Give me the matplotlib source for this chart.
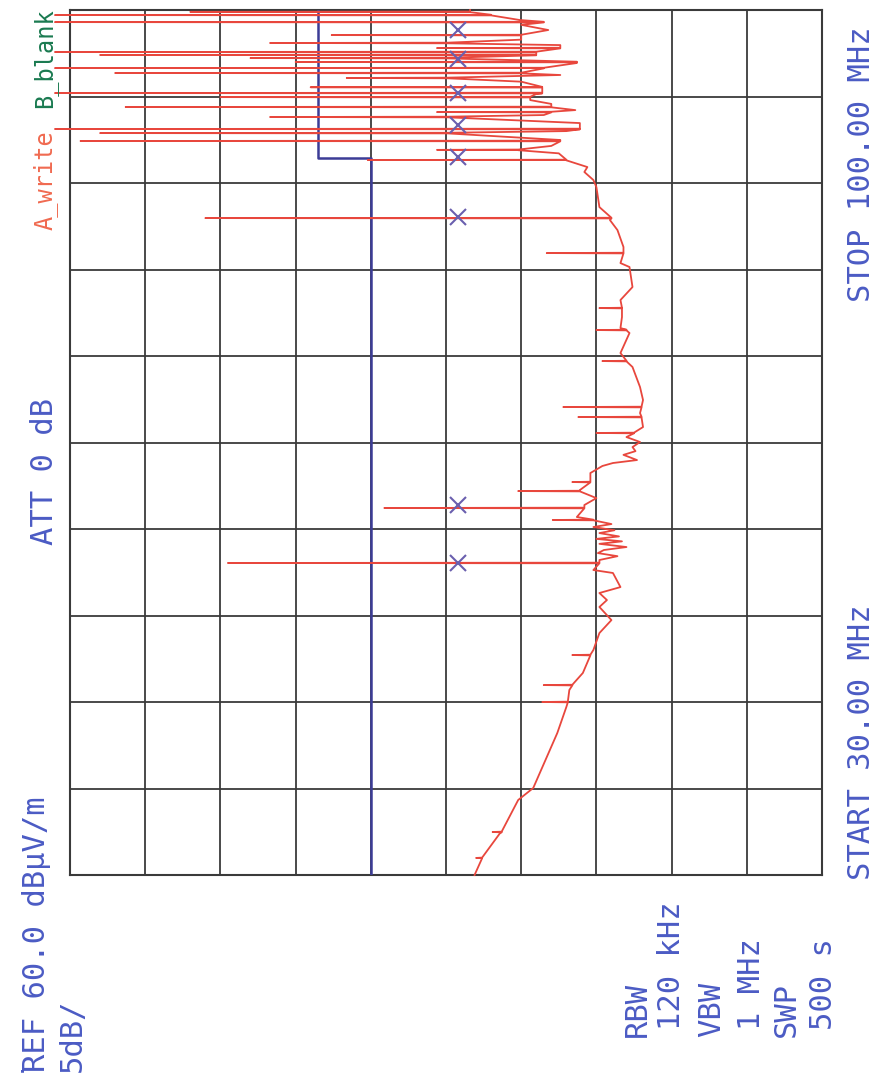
import matplotlib.pyplot as plt

# sweep noise floor (MHz, dBuV/m)
floor_freq = [30.00, 31.38, 33.40, 36.07, 37.04, 39.55, 41.49, 43.59, 44.97, 46.35,
              48.21, 49.58, 50.63, 51.69, 52.25, 52.82, 53.30, 54.44, 54.68, 55.49,
              55.80, 56.05, 56.30, 56.54, 56.80, 57.00, 57.20, 57.40, 57.67, 57.90,
              58.16, 58.40, 58.97, 59.94, 60.50, 61.15, 62.53, 63.10, 63.34, 63.58,
              64.00, 64.30, 64.63, 65.04, 65.44, 66.25, 67.38, 68.44, 69.49, 71.11,
              72.24, 73.86, 74.26, 75.15, 76.53, 77.58, 79.20, 79.52, 80.82, 82.19,
              83.00, 84.05, 85.67, 86.24, 86.89, 87.29, 87.86, 88.40, 88.68, 89.00,
              89.48, 90.20, 90.85, 91.50, 91.90, 92.40, 92.71, 93.20, 93.68, 94.20,
              94.74, 95.30, 95.71, 96.40, 97.16, 97.60, 98.38, 98.80, 99.19, 99.60,
              100.00]
floor_level = [33.1, 32.6, 31.4, 30.2, 29.2, 28.3, 27.6, 27.0, 26.8, 25.9,
               25.2, 24.8, 24.0, 24.8, 24.3, 24.8, 23.4, 23.9, 25.2, 24.8,
               23.6, 24.9, 24.5, 23.0, 24.8, 23.3, 25.0, 23.5, 24.8, 23.8,
               25.2, 24.0, 26.3, 25.8, 25.0, 26.1, 25.4, 24.6, 23.9, 22.3,
               23.2, 22.4, 22.6, 22.1, 23.0, 21.9, 22.1, 21.9, 22.1, 22.6,
               23.4, 22.8, 23.4, 23.3, 23.4, 22.6, 22.8, 23.4, 23.2, 23.6,
               24.1, 24.8, 25.0, 25.2, 25.8, 25.6, 27.0, 27.5, 30.2, 28.0,
               27.4, 27.0, 26.1, 28.5, 26.4, 28.0, 29.4, 29.0, 28.6, 30.0,
               27.4, 28.5, 26.3, 29.0, 27.4, 30.0, 28.2, 30.0, 30.1, 32.0,
               33.4]

# narrow carriers standing on the floor
spike_freq = [31.38, 33.48, 44.00, 45.37, 47.80, 55.25, 58.73, 59.70, 61.07, 61.80,
              65.77, 67.06, 67.87, 71.59, 74.10, 75.88, 80.33, 83.16, 87.86, 88.68,
              89.40, 90.04, 90.37, 91.34, 91.74, 92.15, 92.95, 93.28, 93.75, 94.50,
              94.90, 95.30, 95.79, 96.11, 96.36, 96.60, 96.92, 97.33, 97.97, 99.02,
              99.59, 99.85]
spike_peak = [33.0, 31.9, 28.6, 28.5, 26.6, 49.5, 27.9, 39.1, 30.2, 26.6,
              25.0, 26.2, 27.2, 24.6, 25.0, 24.8, 28.3, 51.0, 40.2, 35.6,
              59.3, 58.0, 61.0, 46.7, 35.6, 56.3, 50.0, 61.0, 44.0, 41.6,
              57.0, 61.0, 45.0, 48.0, 58.0, 61.0, 35.6, 46.7, 42.6, 61.0,
              61.0, 52.0]
spike_base = [32.6, 31.3, 26.9, 26.6, 25.4, 24.8, 25.2, 25.8, 26.1, 25.4,
              22.5, 22.0, 22.0, 23.0, 23.0, 23.3, 23.2, 24.0, 27.0, 30.2,
              27.4, 34.9, 26.1, 34.9, 28.0, 28.0, 29.4, 28.6, 28.6, 34.9,
              30.0, 28.5, 26.3, 34.9, 29.0, 29.0, 27.4, 34.9, 30.0, 28.5,
              32.0, 33.4]

marker_freq = [55.25, 59.94, 83.25, 88.10, 90.70, 93.30, 96.00, 98.40]
marker_level = [34.2, 34.2, 34.2, 34.2, 34.2, 34.2, 34.2, 34.2]

limit_freq = [30, 88, 88, 100]
limit_level = [40.0, 40.0, 43.5, 43.5]

pts = list(zip(floor_freq, floor_level))
for f, p, b in zip(spike_freq, spike_peak, spike_base):
    pts += [(f - 0.025, b), (f, p), (f + 0.025, b)]
pts.sort()
trace_freq = [p[0] for p in pts]
trace_level = [p[1] for p in pts]

W, H = 889, 1082
fig = plt.figure(figsize=(W / 100, H / 100), dpi=100)
ax = fig.add_axes([70 / W, 1 - 875 / H, 752 / W, 865 / H])

ax.plot(limit_level, limit_freq, color='#3c3c96', lw=1.8, zorder=3)
ax.plot(trace_level, trace_freq, color='#e8473d', lw=1.3, zorder=4, clip_on=False)
ax.plot(marker_level, marker_freq, ls='none', marker='x', ms=11, mew=1.5,
        color='#6a5fae', zorder=5)

ax.set_xlim(60, 10)
ax.set_ylim(30, 100)
ax.set_xticks(range(10, 61, 5))
ax.set_yticks(range(30, 101, 7))
ax.tick_params(length=0, labelbottom=False, labelleft=False)
ax.grid(True, color='#3a3a3a', lw=1.3)
for s in ax.spines.values():
    s.set_color('#3a3a3a')
    s.set_linewidth(1.5)

blue = '#4b5bc4'
mono = 'DejaVu Sans Mono'


def label(x, y, s, color=blue, size=22):
    fig.text(x / W, 1 - y / H, s, rotation=90, ha='center', va='bottom',
             fontsize=size, family=mono, color=color)


label(37, 1072, 'REF 60.0 dBµV/m')
label(72, 1072, '5dB/')
label(14, 1072, '.', size=16)
label(45, 545, 'ATT 0 dB')
label(45, 230, 'A_write', color='#f06a50', size=17)
label(45, 108, 'B_blank', color='#1a7a50', size=17)
label(637, 1037, 'RBW')
label(671, 1030, '120 kHz')
label(712, 1037, 'VBW')
label(751, 1030, '1 MHz')
label(786, 1037, 'SWP')
label(823, 1030, '500 s')
label(862, 880, 'START 30.00 MHz')
label(862, 302, 'STOP 100.00 MHz')

fig.savefig('out.png', dpi=100)
